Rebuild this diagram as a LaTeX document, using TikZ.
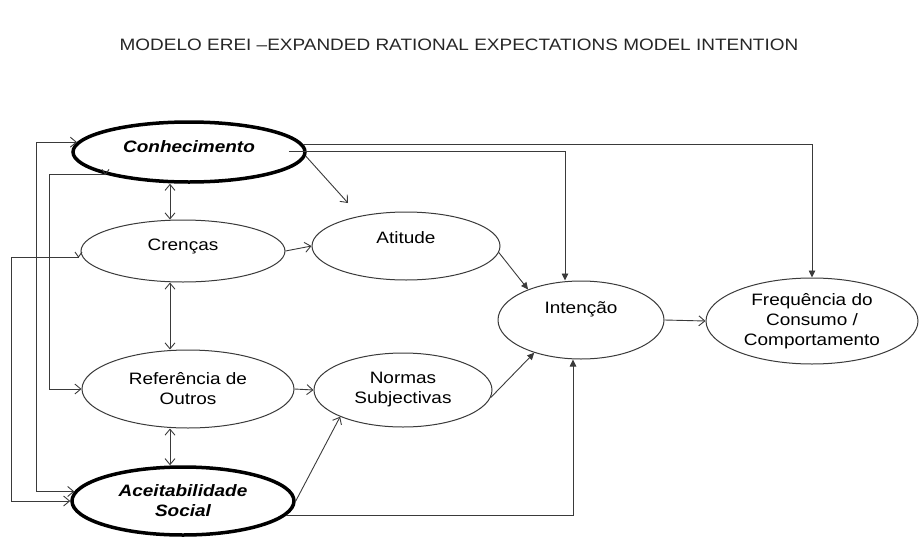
\documentclass[tikz,border=0pt]{standalone}
\usepackage{fontspec}
\usepackage{graphicx}
\setmainfont[FakeStretch=1.15]{Liberation Sans}
\usetikzlibrary{arrows.meta,shapes.geometric,calc}
\definecolor{ink}{HTML}{3A3A3A}
\definecolor{titlegray}{HTML}{262626}
% text lifted inside an ellipse without changing the node size
\newcommand{\lifted}[2]{\raisebox{#1}[0pt][0pt]{#2}}
\begin{document}
\begin{tikzpicture}[x=1pt,y=-1pt,
  every node/.style={font=\fontsize{16.5}{20}\selectfont},
  box/.style={ellipse, draw=ink, line width=1pt, fill=white, inner sep=0pt,
    align=center, text=black},
  key/.style={box, draw=black, line width=3.5pt,
    font=\fontsize{16.5}{20}\selectfont\bfseries\itshape},
  plain/.style={draw=ink, line width=0.9pt},
  barb/.style={plain, -{Straight Barb[length=6pt,width=10pt]}},
  barbs/.style={plain, {Straight Barb[length=6pt,width=10pt]}-{Straight Barb[length=6pt,width=10pt]}},
  tri/.style={plain, -{Triangle[length=7pt,width=6.5pt]}}
]
\useasboundingbox (0,0) rectangle (920,538);

% title
\node[text=titlegray] (title) at (459,45)
  {MODELO EREI –EXPANDED RATIONAL EXPECTATIONS MODEL INTENTION};

% constructs
\node[key, minimum width=232pt, minimum height=60pt] (conh) at (189,152)
  {\lifted{0pt}{Conhecimento}};
\node[box, minimum width=204pt, minimum height=62pt] (cren) at (183,251)
  {\lifted{1pt}{Crenças}};
\node[box, minimum width=188pt, minimum height=68pt] (atit) at (406,246)
  {\lifted{3pt}{Atitude}};
\node[box, minimum width=166pt, minimum height=78pt] (inten) at (581,320)
  {\lifted{7pt}{Intenção}};
\node[box, minimum width=212pt, minimum height=86pt] (freq) at (812,321)
  {Frequência do\\Consumo /\\Comportamento};
\node[box, minimum width=212pt, minimum height=78pt] (refo) at (188,389)
  {Referência de\\Outros};
\node[box, minimum width=178pt, minimum height=74pt] (norm) at (403,390)
  {Normas\\Subjectivas};
\node[key, minimum width=222pt, minimum height=68pt] (acei) at (183,501)
  {Aceitabilidade\\Social};

% vertical links on the left column
\coordinate (col) at (170,0);
\draw[barbs] (conh.south -| col) -- (cren.north -| col);
\draw[barbs] (cren.south -| col) -- (refo.north -| col);
\draw[barbs] (refo.south -| col) -- (acei.north -| col);

% links towards the attitude and the norms
\coordinate (ca) at (348,203);
\draw[barb] (cren.east) -- (atit.west);
\draw[barb] (conh.-2) -- (ca);
\draw[barb] (refo.east) -- (norm.west);
\draw[barb] (acei.east) -- (norm.203);

% links into the intention
\coordinate (cx) at (565,0);
\coordinate (cy) at (573,0);
\draw[tri] (atit.-4) -- (inten.150);
\draw[tri] (norm.-5) -- (inten.215);
\draw[tri] ($(conh.east)+(-18,-1)$) -| (inten.north -| cx);
\draw[tri] (acei.-8) -| (inten.south -| cy);

% links into the behaviour
\draw[tri] (conh.4.6) -| (freq.north);
\draw[barb] (inten.east) -- (freq.west);

% feedback loops on the far left
\coordinate (p1) at ($(cren.west)+(-2,6)$);
\draw[barb] (p1) -- ++(-67,0) |- (acei.west);
\draw[plain] (p1) ++(-3.5,-5) -- (p1) -- ++(3.5,-5);
\draw[barbs] (conh.175.4) -- ++(-41,0) |- (acei.175.8);
\draw[barb] (conh.195) -- ++(-56,0) |- (refo.west);
\draw[plain] (conh.195) ++(-3.5,-5) -- (conh.195) -- ++(3.5,-5);
\end{tikzpicture}
\end{document}
